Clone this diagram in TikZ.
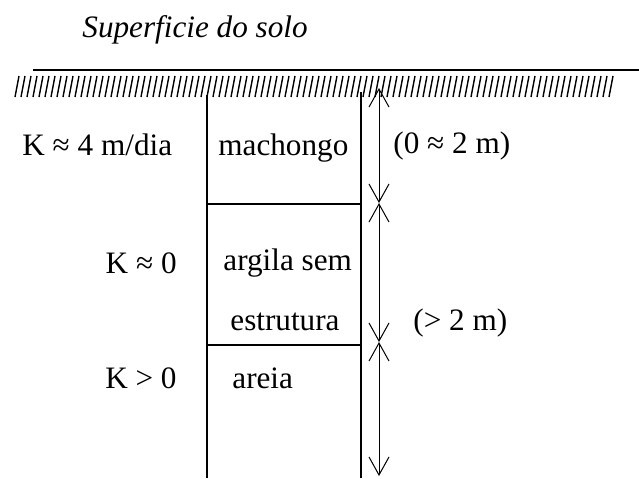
\documentclass[tikz,border=0pt]{standalone}
\usepackage{fontspec}
\setmainfont{Liberation Serif}
\usepackage{tikz}
\usetikzlibrary{arrows.meta,positioning}

\begin{document}
\begin{tikzpicture}[
    x=0.5pt,y=-0.5pt,
    lbl/.style={inner sep=0pt,font=\fontsize{15.6}{19}\selectfont},
    solo/.style={line width=1.25pt},
    hachura/.style={line width=0.7pt},
    camada/.style={line width=1pt},
    cota/.style={{Straight Barb[length=9pt,width=10pt]}-{Straight Barb[length=9pt,width=10pt]},line width=0.5pt}
]
\useasboundingbox (0,0) rectangle (639,478);
% superficie
\node[lbl,anchor=base west] (titulo) at (82,37) {\itshape Superficie do solo};
\draw[solo] (33,70) -- (639,70);
\foreach \i in {0,...,99}
    \draw[hachura] ({15+6*\i},97) -- ++(4,-21);
% perfil
\draw[camada] (207,95) -- (207,478);
\draw[camada] (361,92) -- (361,478);
\draw[camada] (207,204) -- (361,204);
\draw[camada] (207,345) -- (361,345);
% textos
\node[lbl,anchor=base west] (k1) at (22,155) {K ≈ 4 m/dia};
\node[lbl,anchor=base east] (k2) at (177,273) {K ≈ 0};
\node[lbl,anchor=base east] (k3) at (177,388) {K > 0};
\node[lbl,anchor=base west] (machongo) at (218,155) {machongo};
\node[lbl,anchor=base west] (argila) at (223,270) {argila sem};
\node[lbl,anchor=base west] (estrutura) at (230,330) {estrutura};
\node[lbl,anchor=base west] (areia) at (232,388) {areia};
\node[lbl,anchor=base west] (esp1) at (393,153) {(0 ≈ 2 m)};
\node[lbl,anchor=base west] (esp2) at (413,330) {(> 2 m)};
% cotas
\coordinate (c0) at (379,88);
\coordinate (c1) at (379,203);
\coordinate (c2) at (379,342);
\coordinate (c3) at (379,476);
\draw[cota] (c0) -- (c1);
\draw[cota] (c1) -- (c2);
\draw[cota] (c2) -- (c3);
\end{tikzpicture}
\end{document}
